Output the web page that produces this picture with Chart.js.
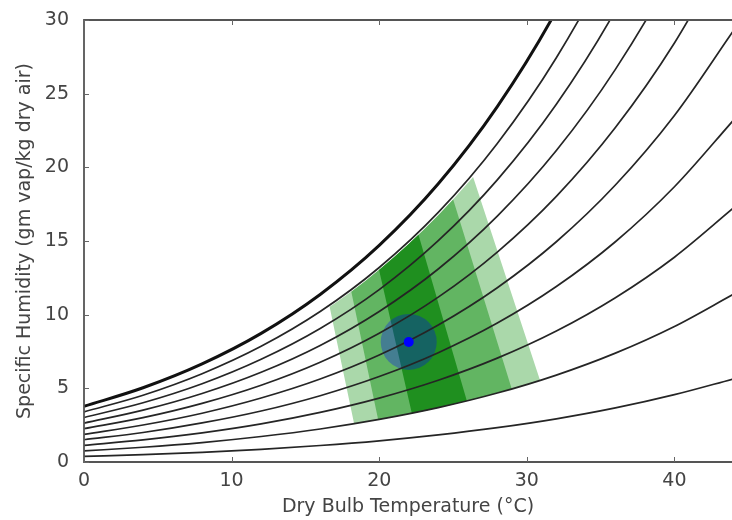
<!DOCTYPE html>
<html>
<head>
<meta charset="utf-8">
<script src="https://cdn.jsdelivr.net/npm/chart.js@4.4.0/dist/chart.umd.min.js"></script>
<style>
html, body { margin: 0; padding: 0; background: #fff; }
</style>
</head>
<body>
<canvas id="psychroChart" width="732" height="520"></canvas>
<script>
// dry bulb temperatures (deg C) where the humidity curves are sampled
var temps = [0, 4, 8, 12, 16, 20, 24, 28, 32, 36, 40, 44];

// specific humidity (g/kg) along each relative humidity curve
var rh100 = [3.78, 5.04, 6.66, 8.73, 11.37, 14.70, 18.88, 24.12, 30.64, 38.78, 48.89, 61.45];
var rh90  = [3.40, 4.53, 5.99, 7.85, 10.21, 13.20, 16.94, 21.62, 27.44, 34.68, 43.66, 54.76];
var rh80  = [3.02, 4.02, 5.31, 6.97, 9.06, 11.70, 15.02, 19.15, 24.28, 30.64, 38.51, 48.21];
var rh70  = [2.64, 3.52, 4.65, 6.09, 7.91, 10.22, 13.10, 16.69, 21.14, 26.65, 33.43, 41.78];
var rh60  = [2.26, 3.01, 3.98, 5.21, 6.77, 8.74, 11.19, 14.25, 18.03, 22.70, 28.44, 35.47];
var rh50  = [1.88, 2.51, 3.31, 4.34, 5.63, 7.26, 9.30, 11.83, 14.95, 18.80, 23.52, 29.28];
var rh40  = [1.51, 2.00, 2.65, 3.46, 4.50, 5.80, 7.42, 9.43, 11.91, 14.95, 18.68, 23.20];
var rh30  = [1.13, 1.50, 1.98, 2.59, 3.37, 4.34, 5.55, 7.05, 8.89, 11.15, 13.90, 17.24];
var rh20  = [0.75, 1.00, 1.32, 1.73, 2.24, 2.89, 3.69, 4.68, 5.90, 7.39, 9.20, 11.39];
var rh10  = [0.38, 0.50, 0.66, 0.86, 1.12, 1.44, 1.84, 2.33, 2.93, 3.67, 4.57, 5.64];

// comfort zone bands (outline, T / humidity)
var bandOuter = [
    {x: 18.30, y: 2.59}, {x: 19, y: 2.71}, {x: 20, y: 2.89}, {x: 21, y: 3.07}, {x: 22, y: 3.26},
    {x: 23, y: 3.47}, {x: 24, y: 3.69}, {x: 25, y: 3.92}, {x: 26, y: 4.16}, {x: 27, y: 4.41},
    {x: 28, y: 4.68}, {x: 29, y: 4.96}, {x: 30, y: 5.26}, {x: 30.90, y: 5.54},
    {x: 26.36, y: 19.34}, {x: 26, y: 18.93}, {x: 25, y: 17.81}, {x: 24, y: 16.75}, {x: 23, y: 15.74},
    {x: 22, y: 14.79}, {x: 21, y: 13.89}, {x: 20, y: 13.05}, {x: 19, y: 12.24}, {x: 18, y: 11.48},
    {x: 17, y: 10.77}, {x: 16.64, y: 10.53}
];
var bandMiddle = [
    {x: 19.93, y: 2.87}, {x: 21, y: 3.07}, {x: 22, y: 3.26}, {x: 23, y: 3.47}, {x: 24, y: 3.69},
    {x: 25, y: 3.92}, {x: 26, y: 4.16}, {x: 27, y: 4.41}, {x: 28, y: 4.68}, {x: 28.98, y: 4.95},
    {x: 25.01, y: 17.82}, {x: 24, y: 16.75}, {x: 23, y: 15.74}, {x: 22, y: 14.79}, {x: 21, y: 13.89},
    {x: 20, y: 13.05}, {x: 19, y: 12.24}, {x: 18.11, y: 11.56}
];
var bandInner = [
    {x: 22.21, y: 3.31}, {x: 23, y: 3.47}, {x: 24, y: 3.69}, {x: 25, y: 3.92}, {x: 25.94, y: 4.14},
    {x: 22.66, y: 15.42}, {x: 22, y: 14.79}, {x: 21, y: 13.89}, {x: 19.99, y: 13.04}
];

// measured state point
var statePoint = [{x: 22.0, y: 8.15}];

var xTicks = [0, 10, 20, 30, 40];
var yTicks = [0, 5, 10, 15, 20, 25, 30];

function makeCurve(values) {
    return temps.map(function (t, i) {
        return {x: t, y: values[i]};
    });
}

function curveDataset(values, width, color) {
    return {
        data: makeCurve(values),
        showLine: true,
        borderColor: color,
        borderWidth: width,
        pointRadius: 0,
        cubicInterpolationMode: 'monotone',
        capBezierPoints: false,
        fill: false,
        order: 1
    };
}

function bandDataset(points, color, order) {
    return {
        data: points,
        showLine: true,
        fill: 'shape',
        backgroundColor: color,
        borderColor: 'rgba(0,0,0,0)',
        borderWidth: 1,
        pointRadius: 0,
        tension: 0,
        order: order
    };
}

var datasets = [
    curveDataset(rh100, 3, '#111'),
    curveDataset(rh90, 1.7, '#252525'),
    curveDataset(rh80, 1.7, '#252525'),
    curveDataset(rh70, 1.7, '#252525'),
    curveDataset(rh60, 1.7, '#252525'),
    curveDataset(rh50, 1.7, '#252525'),
    curveDataset(rh40, 1.7, '#252525'),
    curveDataset(rh30, 1.7, '#252525'),
    curveDataset(rh20, 1.7, '#252525'),
    curveDataset(rh10, 1.7, '#252525'),
    bandDataset(bandInner, '#1f8f1f', 3),
    bandDataset(bandMiddle, '#62b562', 4),
    bandDataset(bandOuter, '#aad8aa', 5),
    {
        // uncertainty circle round the state point
        data: statePoint,
        pointRadius: 28,
        pointBackgroundColor: 'rgba(0,0,255,0.3)',
        pointBorderWidth: 0,
        pointBorderColor: 'rgba(0,0,0,0)',
        order: 2
    },
    {
        data: statePoint,
        pointRadius: 5,
        pointBackgroundColor: '#0000ff',
        pointBorderWidth: 0,
        pointBorderColor: 'rgba(0,0,0,0)',
        order: 0
    }
];

// box round the plot with inward tick marks
var framePlugin = {
    id: 'frame',
    afterDatasetsDraw: function (chart) {
        var ctx = chart.ctx;
        var a = chart.chartArea;
        var xs = chart.scales.x;
        var ys = chart.scales.y;
        ctx.save();
        ctx.strokeStyle = '#555';
        ctx.lineWidth = 1.8;
        ctx.beginPath();
        ctx.moveTo(a.right, a.top);
        ctx.lineTo(a.left, a.top);
        ctx.lineTo(a.left, a.bottom);
        ctx.lineTo(a.right, a.bottom);
        ctx.stroke();

        ctx.lineWidth = 1;
        ctx.strokeStyle = '#666';
        ctx.beginPath();
        xTicks.forEach(function (v) {
            var px = Math.round(xs.getPixelForValue(v)) + 0.5;
            ctx.moveTo(px, a.bottom);
            ctx.lineTo(px, a.bottom - 5);
            ctx.moveTo(px, a.top);
            ctx.lineTo(px, a.top + 5);
        });
        yTicks.forEach(function (v) {
            var py = Math.round(ys.getPixelForValue(v)) + 0.5;
            ctx.moveTo(a.left, py);
            ctx.lineTo(a.left + 5, py);
        });
        ctx.stroke();
        ctx.restore();
    }
};

var tickFont = {family: 'DejaVu Sans', size: 19};
var ctx = document.getElementById('psychroChart').getContext('2d');
var chart = new Chart(ctx, {
    type: 'scatter',
    data: {datasets: datasets},
    options: {
        responsive: false,
        animation: false,
        layout: {autoPadding: false, padding: {top: 20, right: 0, left: 0, bottom: 0}},
        plugins: {
            legend: {display: false},
            tooltip: {enabled: false}
        },
        scales: {
            x: {
                type: 'linear',
                min: 0,
                max: 43.9,
                grid: {display: false, drawTicks: false},
                border: {display: false},
                ticks: {stepSize: 10, includeBounds: false, font: tickFont, color: '#444', padding: 8},
                title: {
                    display: true,
                    text: 'Dry Bulb Temperature (°C)',
                    font: tickFont,
                    color: '#444',
                    padding: {top: 0, bottom: 2}
                },
                afterFit: function (scale) {
                    scale.height = 58;
                    scale.paddingLeft = 0;
                    scale.paddingRight = 0;
                }
            },
            y: {
                type: 'linear',
                min: 0,
                max: 30,
                grid: {display: false, drawTicks: false},
                border: {display: false},
                ticks: {stepSize: 5, includeBounds: false, font: tickFont, color: '#444', padding: 15},
                title: {
                    display: true,
                    text: 'Specific Humidity (gm vap/kg dry air)',
                    font: tickFont,
                    color: '#444',
                    padding: {top: 14, bottom: 0}
                },
                afterFit: function (scale) {
                    scale.width = 84;
                    scale.paddingTop = 0;
                    scale.paddingBottom = 0;
                }
            }
        }
    },
    plugins: [framePlugin]
});
</script>
</body>
</html>
